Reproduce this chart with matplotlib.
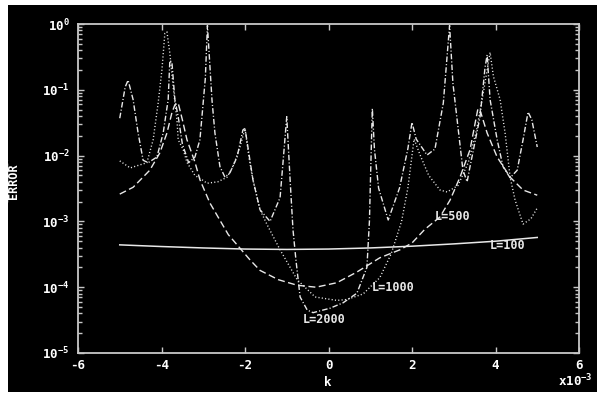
#!/usr/bin/env python
# -*- coding: utf-8 -*-

"""
Error against wave number k for several lengths L (log scale).
"""

# Third party modules.
import matplotlib
matplotlib.use("Agg")
import matplotlib.pyplot as plt
from matplotlib.patches import Rectangle
from matplotlib.lines import Line2D
from matplotlib.ticker import LogLocator, FixedLocator

# Globals and constants variables.
K_L100 = [-5.0, -4.0, -3.0, -2.0, -1.0, 0.0, 1.0, 2.0, 3.0, 4.0, 5.0]
ERR_L100 = [4.4e-4, 4.15e-4, 3.95e-4, 3.8e-4, 3.75e-4, 3.8e-4, 3.95e-4, 4.2e-4, 4.55e-4, 5.0e-4, 5.7e-4]

K_L500 = [-5.0, -4.68, -4.28, -4.04, -3.87, -3.75, -3.68, -3.6, -3.5, -3.39, -3.2, -3.08,
          -2.84, -2.4, -1.88, -1.64, -1.2, -0.75, -0.3, 0.2, 0.68, 1.23, 1.71, 2.0, 2.3,
          2.67, 2.91, 3.15, 3.39, 3.58, 3.63, 3.8, 4.04, 4.35, 4.66, 5.0]
ERR_L500 = [2.6e-3, 3.3e-3, 6.0e-3, 1.1e-2, 2.2e-2, 4.5e-2, 5.9e-2, 6.3e-2, 3.5e-2, 1.74e-2,
            8.0e-3, 4.3e-3, 1.9e-3, 6.3e-4, 2.6e-4, 1.8e-4, 1.3e-4, 1.07e-4, 1.0e-4, 1.17e-4,
            1.7e-4, 2.8e-4, 3.7e-4, 4.7e-4, 7.5e-4, 1.17e-3, 2.1e-3, 4.7e-3, 1.23e-2, 5.2e-2,
            4.9e-2, 2.2e-2, 9.5e-3, 4.7e-3, 3.0e-3, 2.5e-3]

K_L1000 = [-5.0, -4.75, -4.35, -4.2, -4.08, -3.99, -3.92, -3.87, -3.8, -3.72, -3.63, -3.6,
           -3.48, -3.39, -3.2, -3.03, -2.91, -2.65, -2.43, -2.29, -2.12, -2.0, -1.9, -1.81,
           -1.64, -1.47, -1.16, -0.75, -0.32, 0.2, 0.44, 0.83, 1.23, 1.5, 1.75, 1.9, 2.05,
           2.2, 2.4, 2.67, 2.84, 3.1, 3.35, 3.55, 3.72, 3.87, 3.95, 4.11, 4.23, 4.35, 4.47,
           4.66, 4.85, 5.0]
ERR_L1000 = [8.3e-3, 6.5e-3, 7.8e-3, 1.74e-2, 6.3e-2, 0.2, 0.72, 0.76, 0.36, 0.11, 3.5e-2,
             1.74e-2, 1.23e-2, 7.9e-3, 5.0e-3, 4.3e-3, 3.8e-3, 4.0e-3, 4.7e-3, 6.8e-3, 1.35e-2,
             2.6e-2, 8.9e-3, 4.3e-3, 1.5e-3, 8.9e-4, 3.7e-4, 1.3e-4, 7.1e-5, 6.3e-5, 6.5e-5,
             7.9e-5, 1.4e-4, 3.2e-4, 1.0e-3, 3.2e-3, 1.78e-2, 1.0e-2, 5.0e-3, 3.0e-3, 2.8e-3,
             3.5e-3, 7.9e-3, 2.5e-2, 0.1, 0.37, 0.16, 7.1e-2, 2.2e-2, 4.7e-3, 2.1e-3, 9.1e-4,
             1.1e-3, 1.6e-3]

K_L2000 = [-5.0, -4.87, -4.8, -4.68, -4.56, -4.44, -4.32, -4.11, -3.96, -3.84, -3.8, -3.75,
           -3.68, -3.6, -3.5, -3.35, -3.2, -3.08, -2.95, -2.9, -2.79, -2.72, -2.6, -2.48,
           -2.36, -2.19, -2.05, -2.0, -1.81, -1.64, -1.4, -1.16, -1.09, -1.0, -0.92, -0.85,
           -0.78, -0.68, -0.51, -0.37, 0.04, 0.35, 0.68, 0.92, 0.98, 1.02, 1.05, 1.1, 1.2,
           1.43, 1.7, 1.9, 2.0, 2.1, 2.36, 2.55, 2.75, 2.9, 2.98, 3.1, 3.22, 3.32, 3.39, 3.63,
           3.75, 3.8, 3.87, 4.04, 4.18, 4.35, 4.52, 4.66, 4.78, 4.87, 5.0]
ERR_L2000 = [3.7e-2, 0.11, 0.14, 7.1e-2, 2.2e-2, 8.5e-3, 7.8e-3, 9.5e-3, 2.2e-2, 7.1e-2, 0.28,
             0.26, 7.1e-2, 3.9e-2, 1.5e-2, 7.8e-3, 9.5e-3, 1.74e-2, 0.15, 0.95, 6.9e-2, 2.2e-2,
             6.8e-3, 4.7e-3, 5.5e-3, 9.5e-3, 2.45e-2, 2.6e-2, 4.3e-3, 1.5e-3, 1.0e-3, 2.3e-3,
             7.8e-3, 3.9e-2, 4.3e-3, 7.4e-4, 2.6e-4, 7.1e-5, 4.5e-5, 4.1e-5, 4.8e-5, 5.8e-5,
             8.1e-5, 2.0e-4, 1.0e-3, 1.0e-2, 5.2e-2, 1.26e-2, 3.2e-3, 1.05e-3, 3.2e-3, 1.26e-2,
             3.2e-2, 1.78e-2, 1.02e-2, 1.26e-2, 6.3e-2, 0.95, 0.126, 2.75e-2, 6.0e-3, 4.0e-3,
             6.8e-3, 3.9e-2, 0.22, 0.34, 7.1e-2, 1.74e-2, 6.8e-3, 4.6e-3, 6.0e-3, 1.74e-2,
             4.6e-2, 3.5e-2, 1.35e-2]

CURVE_LABELS = ["L=100", "L=500", "L=1000", "L=2000"]
LABEL_K = [3.87, 2.55, 1.04, -0.61]
LABEL_ERR = [4.3e-4, 1.2e-3, 9.8e-5, 3.2e-5]

X_TICKS = [-6, -4, -2, 0, 2, 4, 6]

FG = "#e8e8e8"
AXIS = "#c8c8c8"


def make_figure():
    plt.rcParams["font.family"] = ["DejaVu Sans Mono"]
    plt.rcParams["font.weight"] = "bold"
    plt.rcParams["mathtext.fontset"] = "custom"
    plt.rcParams["mathtext.rm"] = "DejaVu Sans Mono:bold"
    plt.rcParams["mathtext.it"] = "DejaVu Sans Mono:bold"
    plt.rcParams["mathtext.bf"] = "DejaVu Sans Mono:bold"

    fig = plt.figure(figsize=(6.01, 3.96), dpi=100, facecolor="white")
    fig.patches.append(Rectangle((8 / 601, 4 / 396), 589 / 601, 387 / 396,
                                 transform=fig.transFigure, facecolor="black",
                                 edgecolor="none", zorder=-10))

    ax = fig.add_axes([78 / 601, 1 - 353 / 396, 501 / 601, 329 / 396])
    ax.set_facecolor("black")
    ax.patch.set_alpha(0.0)

    ax.plot(K_L100, ERR_L100, color=FG, lw=1.1, ls="-")
    ax.plot(K_L500, ERR_L500, color=FG, lw=1.0, dashes=(5, 2.5))
    ax.plot(K_L1000, ERR_L1000, color=FG, lw=1.0, dashes=(0.8, 1.6))
    ax.plot(K_L2000, ERR_L2000, color=FG, lw=1.0, dashes=(4, 1.5, 0.8, 1.5))

    for text, k, err in zip(CURVE_LABELS, LABEL_K, LABEL_ERR):
        ax.text(k, err, text, color=FG, fontsize=8.5, ha="left", va="center")

    ax.set_xlim(-6, 6)
    ax.set_yscale("log")
    ax.set_ylim(1e-5, 1e0)
    ax.xaxis.set_major_locator(FixedLocator(X_TICKS))
    ax.set_xticklabels([str(t) for t in X_TICKS])
    ax.yaxis.set_major_locator(LogLocator(base=10, numticks=10))
    ax.yaxis.set_minor_locator(LogLocator(base=10, subs=range(2, 10), numticks=10))

    for side in ax.spines.values():
        side.set_color(AXIS)
        side.set_linewidth(1.3)
    ax.tick_params(which="both", direction="in", color=AXIS, top=True, right=True,
                   labelcolor="white", labelsize=9)
    ax.tick_params(which="major", length=4, width=1)
    ax.tick_params(which="minor", length=3, width=1)
    ax.tick_params(axis="x", pad=4)
    ax.tick_params(axis="y", pad=6)

    fig.text(328 / 601, 1 - 383 / 396, "k", color="white", fontsize=9,
             ha="center", va="center")
    fig.text(593 / 601, 1 - 381 / 396, r"x10$^{-3}$", color="white", fontsize=9,
             ha="right", va="center")
    fig.text(13 / 601, 1 - 181 / 396, "ERROR", color="white", fontsize=8.5,
             rotation=90, ha="center", va="center")
    fig.lines.append(Line2D([7 / 601, 7 / 601], [1 - 202 / 396, 1 - 160 / 396],
                            transform=fig.transFigure, color="white", lw=1,
                            dashes=(3, 2)))

    fig.savefig("out.png", dpi=100, facecolor=fig.get_facecolor())


if __name__ == "__main__":
    make_figure()
